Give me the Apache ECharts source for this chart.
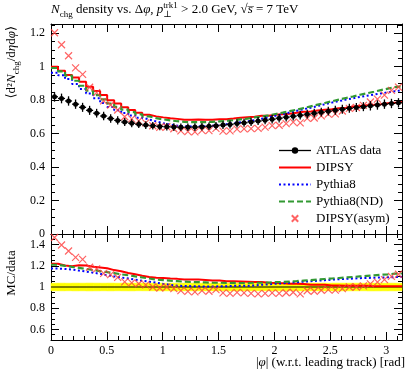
<!DOCTYPE html>
<html><head><meta charset="utf-8">
<script src="https://cdn.jsdelivr.net/npm/echarts@6/dist/echarts.min.js"></script>
<style>html,body{margin:0;padding:0;background:#fff}#c{width:415px;height:375px}</style>
</head><body><div id="c"></div>
<script>
// ---------- data ----------
const N_BINS = 50;
const PHI_MIN = 0, PHI_MAX = Math.PI;
const atlasData = [0.820,0.810,0.795,0.776,0.757,0.739,0.722,0.705,0.690,0.679,0.669,0.662,0.656,0.651,0.647,0.643,0.641,0.639,0.638,0.638,0.639,0.641,0.644,0.647,0.651,0.655,0.660,0.665,0.670,0.675,0.680,0.686,0.692,0.698,0.704,0.710,0.716,0.722,0.728,0.734,0.740,0.746,0.751,0.756,0.761,0.766,0.771,0.776,0.780,0.784];
const atlasErr = [0.029,0.029,0.028,0.028,0.027,0.027,0.026,0.025,0.025,0.024,0.024,0.024,0.023,0.023,0.023,0.023,0.023,0.023,0.023,0.023,0.023,0.023,0.023,0.023,0.023,0.024,0.024,0.024,0.024,0.024,0.024,0.025,0.025,0.025,0.025,0.026,0.026,0.026,0.026,0.026,0.027,0.027,0.027,0.027,0.027,0.028,0.028,0.028,0.028,0.028];
const dipsy = [1.000,0.975,0.950,0.935,0.910,0.880,0.855,0.830,0.800,0.780,0.757,0.741,0.725,0.713,0.703,0.697,0.692,0.688,0.683,0.683,0.684,0.683,0.683,0.686,0.686,0.690,0.695,0.698,0.701,0.707,0.707,0.712,0.716,0.719,0.725,0.730,0.732,0.738,0.743,0.745,0.751,0.755,0.760,0.765,0.770,0.772,0.776,0.781,0.785,0.789];
const pythia8 = [0.963,0.948,0.926,0.896,0.867,0.839,0.812,0.783,0.759,0.740,0.723,0.708,0.695,0.684,0.673,0.662,0.654,0.647,0.644,0.643,0.643,0.644,0.647,0.651,0.656,0.662,0.668,0.673,0.680,0.689,0.697,0.707,0.716,0.726,0.736,0.746,0.755,0.765,0.775,0.785,0.794,0.803,0.811,0.819,0.826,0.833,0.840,0.847,0.853,0.859];
const pythia8ND = [0.992,0.972,0.946,0.916,0.886,0.857,0.830,0.804,0.780,0.760,0.743,0.728,0.715,0.703,0.692,0.685,0.679,0.674,0.670,0.668,0.668,0.669,0.670,0.673,0.676,0.680,0.685,0.690,0.697,0.702,0.709,0.717,0.725,0.734,0.743,0.753,0.763,0.773,0.783,0.793,0.803,0.813,0.822,0.832,0.841,0.850,0.860,0.869,0.878,0.884];
const dipsyAsym = [1.203,1.131,1.065,0.993,0.954,0.877,0.845,0.796,0.771,0.741,0.701,0.688,0.676,0.664,0.647,0.637,0.641,0.629,0.616,0.612,0.610,0.619,0.618,0.631,0.615,0.616,0.627,0.628,0.630,0.631,0.639,0.648,0.650,0.660,0.669,0.664,0.691,0.693,0.706,0.716,0.718,0.735,0.751,0.756,0.769,0.789,0.806,0.830,0.858,0.878];
const xTickLabels = [0,0.5,1,1.5,2,2.5,3];
const yMainTickLabels = [0,0.2,0.4,0.6,0.8,1,1.2];
const yRatioTickLabels = [0.6,0.8,1,1.2,1.4];
const Y_MAIN_MIN = 0, Y_MAIN_MAX = 1.255;
const Y_RATIO_MIN = 0.5, Y_RATIO_MAX = 1.5;

// ---------- helpers ----------
const SERIF = "'Liberation Serif','DejaVu Serif',serif";
const edges = Array.from({length:N_BINS+1},(_,i)=>PHI_MIN+i*(PHI_MAX-PHI_MIN)/N_BINS);
const centers = edges.slice(0,-1).map((e,i)=>(e+edges[i+1])/2);
const stepPts = v => v.map((y,i)=>[edges[i],y]).concat([[edges[N_BINS],v[N_BINS-1]]]);
const ratio = v => v.map((y,i)=>y/atlasData[i]);
const r2 = v => Math.round(v*1000)/1000;
function minorVals(lo,hi,step,majors){
  const out=[]; const n=Math.round((hi-lo)/step);
  for(let k=0;k<=n;k++){const v=r2(lo+k*step); if(!majors.some(m=>Math.abs(m-v)<1e-6)) out.push(v);}
  return out;
}
const xMinor = minorVals(0,3.1,0.1,xTickLabels);
const yMainMinor = minorVals(0,1.25,0.05,yMainTickLabels);
const yRatioMinor = minorVals(0.5,1.5,0.05,yRatioTickLabels);
const fmt = v => String(Number(v.toFixed(2)));
const X_PATH = 'path://M0,0L10,10M10,0L0,10';

function axisPair(kind, grid, pos, min, max, majors, minors, showLabels){
  const base = {type:'value', gridIndex:grid, min, max, position:pos, splitLine:{show:false}, silent:true};
  const major = Object.assign({}, base, {
    axisLine:{show:true,onZero:false,lineStyle:{color:'#000',width:1}},
    axisTick:{show:true,inside:true,length:8,customValues:majors,lineStyle:{color:'#000',width:1}},
    axisLabel:{show:showLabels,customValues:majors,formatter:fmt,fontFamily:SERIF,fontSize:12,color:'#000',margin:kind==='x'?5:6}
  });
  const minor = Object.assign({}, base, {
    axisLine:{show:false,onZero:false},
    axisTick:{show:true,inside:true,length:4,customValues:minors,lineStyle:{color:'#000',width:1}},
    axisLabel:{show:false}
  });
  return [major, minor];
}
const xAxes = [
  ...axisPair('x',0,'bottom',PHI_MIN,PHI_MAX,xTickLabels,xMinor,false),
  ...axisPair('x',0,'top',PHI_MIN,PHI_MAX,xTickLabels,xMinor,false),
  ...axisPair('x',1,'bottom',PHI_MIN,PHI_MAX,xTickLabels,xMinor,true),
  ...axisPair('x',1,'top',PHI_MIN,PHI_MAX,xTickLabels,xMinor,false)
];
const yAxes = [
  ...axisPair('y',0,'left',Y_MAIN_MIN,Y_MAIN_MAX,yMainTickLabels,yMainMinor,true),
  ...axisPair('y',0,'right',Y_MAIN_MIN,Y_MAIN_MAX,yMainTickLabels,yMainMinor,false),
  ...axisPair('y',1,'left',Y_RATIO_MIN,Y_RATIO_MAX,yRatioTickLabels,yRatioMinor,true),
  ...axisPair('y',1,'right',Y_RATIO_MIN,Y_RATIO_MAX,yRatioTickLabels,yRatioMinor,false)
];

const RED='#ff0000', BLUE='#0000ff', GREEN='#339933', XRED='rgba(255,60,60,0.8)';
function mcStep(name, vals, color, type, width, xi, yi, z){
  return {name, type:'line', xAxisIndex:xi, yAxisIndex:yi, step:'end', symbol:'none', data:stepPts(vals),
    lineStyle:{color, width, type}, itemStyle:{color}, z, silent:true, clip:true};
}
function crosses(name, vals, xi, yi){
  return {name, type:'line', xAxisIndex:xi, yAxisIndex:yi, data:centers.map((c,i)=>[c,vals[i]]),
    symbol:X_PATH, symbolSize:7, showSymbol:true, showAllSymbol:true, lineStyle:{opacity:0,color:XRED,width:1},
    itemStyle:{color:XRED,borderColor:XRED,borderWidth:1.2}, z:4, silent:true, clip:true};
}

const series = [
  // main panel
  mcStep('DIPSY', dipsy, RED, 'solid', 2, 0, 0, 3),
  mcStep('Pythia8', pythia8, BLUE, [2,2.5], 2, 0, 0, 3),
  mcStep('Pythia8(ND)', pythia8ND, GREEN, [6,3], 2.2, 0, 0, 3),
  crosses('DIPSY(asym)', dipsyAsym, 0, 0),
  {name:'ATLAS err', type:'custom', xAxisIndex:0, yAxisIndex:0, z:5, silent:true,
   data:centers.map((c,i)=>[c,atlasData[i],atlasErr[i],edges[i],edges[i+1]]),
   encode:{x:0,y:1},
   renderItem:(p,api)=>{
     const x=api.value(0), y=api.value(1), e=api.value(2);
     const a=api.coord([x,y-e]), b=api.coord([x,y+e]);
     const l=api.coord([api.value(3),y]), r=api.coord([api.value(4),y]);
     return {type:'group',children:[
       {type:'line',shape:{x1:a[0],y1:a[1],x2:b[0],y2:b[1]},style:{stroke:'#000',lineWidth:1.3}},
       {type:'line',shape:{x1:l[0],y1:l[1],x2:r[0],y2:r[1]},style:{stroke:'#000',lineWidth:1.3}}
     ]};
   }},
  {name:'ATLAS data', type:'line', xAxisIndex:0, yAxisIndex:0, data:centers.map((c,i)=>[c,atlasData[i]]),
   symbol:'circle', symbolSize:5, showSymbol:true, showAllSymbol:true, lineStyle:{opacity:0,color:'#000',width:1.3},
   itemStyle:{color:'#000'}, z:6, silent:true},
  // ratio panel
  {name:'band', type:'custom', xAxisIndex:4, yAxisIndex:4, z:1, silent:true,
   data:centers.map((c,i)=>[edges[i],edges[i+1],1-atlasErr[i]/atlasData[i],1+atlasErr[i]/atlasData[i]]),
   encode:{x:[0,1],y:[2,3]},
   renderItem:(p,api)=>{
     const a=api.coord([api.value(0),api.value(3)]), b=api.coord([api.value(1),api.value(2)]);
     return {type:'rect',shape:{x:a[0],y:a[1],width:b[0]-a[0],height:b[1]-a[1]},style:{fill:'#ffff00',stroke:'#ffff00',lineWidth:0.6}};
   }},
  mcStep('data ratio', ratio(atlasData), '#000', 'solid', 1.2, 4, 4, 2),
  mcStep('DIPSY ratio', ratio(dipsy), RED, 'solid', 2, 4, 4, 3),
  mcStep('Pythia8 ratio', ratio(pythia8), BLUE, [2,2.5], 2, 4, 4, 3),
  mcStep('Pythia8(ND) ratio', ratio(pythia8ND), GREEN, [6,3], 2.2, 4, 4, 3),
  crosses('DIPSY(asym) ratio', ratio(dipsyAsym), 4, 4)
];

const richBase = {
  i:{fontFamily:SERIF,fontStyle:'italic',fontSize:13,lineHeight:18,color:'#000'},
  sub:{fontFamily:SERIF,fontSize:9,lineHeight:9,verticalAlign:'bottom',color:'#000'},
  sup:{fontFamily:SERIF,fontSize:9,lineHeight:9,verticalAlign:'top',color:'#000'},
  subz:{fontFamily:SERIF,fontSize:9,lineHeight:9,verticalAlign:'bottom',width:0.01,color:'#000'}
};

const chart = echarts.init(document.getElementById('c'), null, {renderer:'canvas'});
chart.setOption({
  animation:false,
  backgroundColor:'#fff',
  title:{
    text:'{i|N}{sub|chg} density vs. Δ{i|φ}, {i|p}{subz|⊥}{sup|trk1} > 2.0 GeV, √{i|s̅} = 7 TeV',
    left:51, top:1, padding:0,
    textStyle:{fontFamily:SERIF,fontSize:13,fontWeight:'normal',lineHeight:18,color:'#000',rich:richBase}
  },
  grid:[
    {left:51, right:13, top:24, height:210},
    {left:51, right:13, top:234, height:106}
  ],
  xAxis:xAxes,
  yAxis:yAxes,
  legend:{
    orient:'vertical', left:278, top:144, itemWidth:32, itemHeight:8, itemGap:4, selectedMode:false, padding:0,
    textStyle:{fontFamily:SERIF,fontSize:13,color:'#000',lineHeight:12},
    data:[
      {name:'ATLAS data',lineStyle:{opacity:1,color:'#000',width:1.3}},
      {name:'DIPSY',itemStyle:{opacity:0}},
      {name:'Pythia8',itemStyle:{opacity:0}},
      {name:'Pythia8(ND)',itemStyle:{opacity:0}},
      'DIPSY(asym)'
    ]
  },
  graphic:[
    {type:'text', x:12, y:26, rotation:Math.PI/2, silent:true,
     style:{text:'⟨d²{i|N}{sub|chg}/d{i|η}d{i|φ}⟩', align:'right', verticalAlign:'middle',
       fontFamily:SERIF, fontSize:13, lineHeight:18, fill:'#000', rich:richBase}},
    {type:'text', x:12, y:273, rotation:Math.PI/2, silent:true,
     style:{text:'MC/data', align:'center', verticalAlign:'middle', fontFamily:SERIF, fontSize:13, fill:'#000'}},
    {type:'text', x:405, y:363, silent:true,
     style:{text:'|{i|φ}| (w.r.t. leading track) [rad]', align:'right', verticalAlign:'middle',
       fontFamily:SERIF, fontSize:13, lineHeight:18, fill:'#000', rich:richBase}}
  ],
  series
});
</script></body></html>
